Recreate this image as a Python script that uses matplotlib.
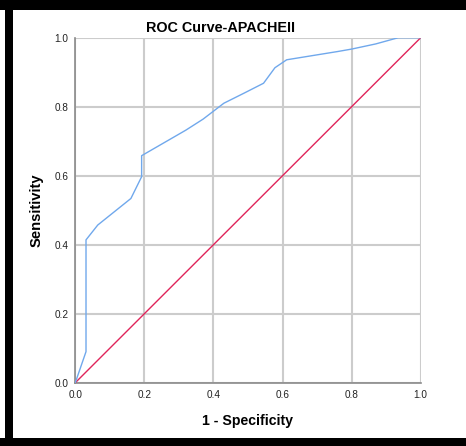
import matplotlib
matplotlib.use("Agg")
import matplotlib.pyplot as plt
from matplotlib.patches import Rectangle

fpr = [0.0, 0.031, 0.031, 0.065, 0.161, 0.192, 0.192, 0.32, 0.37, 0.43, 0.49,
       0.545, 0.578, 0.612, 0.76, 0.80, 0.87, 0.935, 1.0]
tpr = [0.0, 0.09, 0.414, 0.457, 0.534, 0.597, 0.658, 0.732, 0.764, 0.81, 0.84,
       0.868, 0.913, 0.936, 0.96, 0.967, 0.982, 1.0, 1.0]
ref_x = [0.0, 1.0]
ref_y = [0.0, 1.0]
ticks = [0.0, 0.2, 0.4, 0.6, 0.8, 1.0]
tick_labels = ["0.0", "0.2", "0.4", "0.6", "0.8", "1.0"]

plt.rcParams['font.family'] = ['Liberation Sans', 'DejaVu Sans']

W, H = 466, 446
fig = plt.figure(figsize=(W / 100, H / 100), dpi=100)
fig.patch.set_facecolor('white')

# black frame (top, left, bottom)
fig.patches.append(Rectangle((0, 1 - 10 / H), 1, 10 / H, transform=fig.transFigure,
                             facecolor='black', edgecolor='none'))
fig.patches.append(Rectangle((5 / W, 0), 8 / W, 1, transform=fig.transFigure,
                             facecolor='black', edgecolor='none'))
fig.patches.append(Rectangle((0, 0), 1, 8.5 / H, transform=fig.transFigure,
                             facecolor='black', edgecolor='none'))

ax = fig.add_axes([75.3 / W, (H - 382.7) / H, 345.4 / W, 345 / H])
ax.set_xlim(0, 1)
ax.set_ylim(0, 1)
ax.set_xticks(ticks)
ax.set_xticklabels(tick_labels)
ax.set_yticks(ticks)
ax.set_yticklabels(tick_labels)
ax.grid(True, color='#cccccc', linewidth=1.5)
ax.set_axisbelow(True)
for s in ['top', 'right']:
    ax.spines[s].set_visible(False)
for s in ['left', 'bottom']:
    ax.spines[s].set_color('#8a8a8a')
    ax.spines[s].set_linewidth(1.2)
ax.tick_params(length=0, labelsize=7.2, colors='#222222', pad=5)

ax.plot(ref_x, ref_y, color='#e0245a', linewidth=1.0, zorder=3)
ax.plot(fpr, tpr, color='#70a8ec', linewidth=1.0, zorder=4)

fig.text(220 / W, 1 - 27.5 / H, "ROC Curve-APACHEII", ha='center', va='center',
         fontsize=10.4, fontweight='bold')
fig.text(247.5 / W, 1 - 421 / H, "1 - Specificity", ha='center', va='center',
         fontsize=10.2, fontweight='bold')
fig.text(37 / W, 1 - 210 / H, "Sensitivity", ha='center', va='center',
         fontsize=10.6, fontweight='bold', rotation=90)

fig.savefig("out.png", dpi=100)
